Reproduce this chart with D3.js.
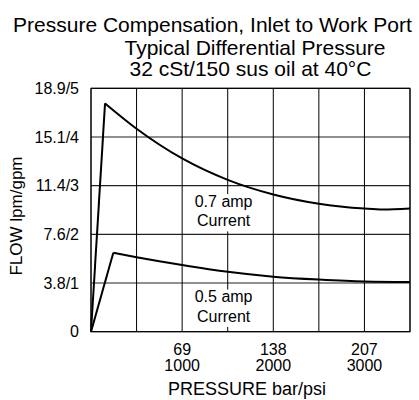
<!DOCTYPE html>
<meta charset="utf-8">
<style>
body { margin: 0; background: #fff; }
text { font-family: "Liberation Sans", Arial, sans-serif; fill: #000; }
</style>
<body>
  <div id="box1"></div>
</body>
<script src="https://d3js.org/d3.v7.min.js"></script>
<script>

// axis ticks
var gpmTicks = [0, 1, 2, 3, 4, 5]
var flowLabels = ["0", "3.8/1", "7.6/2", "11.4/3", "15.1/4", "18.9/5"]
var psiTicks = [1000, 2000, 3000]
var barLabels = ["69", "138", "207"]
var psiGrid = [0, 500, 1000, 1500, 2000, 2500, 3000, 3500]

// 0.7 amp curve (psi, gpm)
var psi07 = [0, 154, 500, 1000, 1500, 2000, 2500, 3000, 3200, 3500]
var gpm07 = [0, 4.69, 4.17, 3.56, 3.12, 2.82, 2.63, 2.53, 2.51, 2.53]

// 0.5 amp curve (psi, gpm)
var psi05 = [0, 245, 500, 1000, 1500, 2000, 2500, 3000, 3500]
var gpm05 = [0, 1.62, 1.53, 1.37, 1.23, 1.13, 1.07, 1.03, 1.02]

var width = 419, height = 400
var margin = ({top: 88.3, right: 9, bottom: 68.3, left: 91})

var x = d3.scaleLinear()
    .domain([0, 3500])
    .range([margin.left, width - margin.right])

var y = d3.scaleLinear()
    .domain([0, 5])
    .range([height - margin.bottom, margin.top])

var svg = d3.select('#box1').append("svg")
    .attr("width", width)
    .attr("height", height)

// grid
svg.append("g")
  .selectAll("line")
  .data(gpmTicks)
  .join("line")
    .attr("x1", x(0)).attr("x2", x(3500))
    .attr("y1", d => y(d)).attr("y2", d => y(d))
    .attr("stroke", "#222")
    .attr("stroke-width", 1.2)

svg.append("g")
  .selectAll("line")
  .data(psiGrid)
  .join("line")
    .attr("x1", d => x(d)).attr("x2", d => x(d))
    .attr("y1", y(0)).attr("y2", y(5))
    .attr("stroke", "#000")
    .attr("stroke-width", 1)

// curves: straight rise to the peak, then smooth decay
function drawCurve(psi, gpm) {
  var pts = psi.map((p, i) => [p, gpm[i]])
  var rise = d3.line().x(d => x(d[0])).y(d => y(d[1]))
  var fall = d3.line().x(d => x(d[0])).y(d => y(d[1])).curve(d3.curveMonotoneX)
  svg.append("path")
    .attr("d", rise(pts.slice(0, 2)))
    .attr("fill", "none").attr("stroke", "#000").attr("stroke-width", 2)
  svg.append("path")
    .attr("d", fall(pts.slice(1)))
    .attr("fill", "none").attr("stroke", "#000").attr("stroke-width", 2)
}
drawCurve(psi07, gpm07)
drawCurve(psi05, gpm05)

// curve labels with white boxes
var notes = [
  {psi: 1455, gpm: 2.56, lines: ["0.7 amp", "Current"]},
  {psi: 1455, gpm: 0.6, lines: ["0.5 amp", "Current"]}
]
notes.forEach(function(n) {
  var g = svg.append("g")
  var rect = g.append("rect").attr("fill", "#fff")
  var t = g.append("text")
    .attr("text-anchor", "middle")
    .style("font-size", "16px")
  n.lines.forEach(function(s, i) {
    t.append("tspan")
      .attr("x", x(n.psi))
      .attr("y", y(n.gpm) + i * 19.4)
      .text(s)
  })
  var b = t.node().getBBox()
  rect.attr("x", b.x - 3).attr("y", b.y + 1)
      .attr("width", b.width + 6).attr("height", b.height + 1)
})

// border
svg.append("rect")
  .attr("x", x(0)).attr("y", y(5))
  .attr("width", x(3500) - x(0)).attr("height", y(0) - y(5))
  .attr("fill", "none").attr("stroke", "#000").attr("stroke-width", 1)

// y tick labels
svg.append("g")
  .selectAll("text")
  .data(gpmTicks)
  .join("text")
    .attr("x", margin.left - 12)
    .attr("y", d => y(d))
    .attr("dy", "0.35em")
    .attr("text-anchor", "end")
    .style("font-size", "16px")
    .text((d, i) => flowLabels[i])

// x tick labels
svg.append("g")
  .selectAll("text")
  .data(psiTicks)
  .join("text")
    .attr("x", d => x(d))
    .attr("y", 355)
    .attr("text-anchor", "middle")
    .style("font-size", "16px")
    .text((d, i) => barLabels[i])

svg.append("g")
  .selectAll("text")
  .data(psiTicks)
  .join("text")
    .attr("x", d => x(d))
    .attr("y", 371)
    .attr("text-anchor", "middle")
    .style("font-size", "16px")
    .text(d => d)

// axis titles
svg.append("text")
  .attr("x", 247).attr("y", 395)
  .attr("text-anchor", "middle")
  .style("font-size", "18px")
  .text("PRESSURE bar/psi")

svg.append("text")
  .attr("transform", "translate(22,216) rotate(-90)")
  .attr("text-anchor", "middle")
  .style("font-size", "17px")
  .text("FLOW lpm/gpm")

// titles
svg.append("text")
  .attr("x", 212.5).attr("y", 31.5)
  .attr("text-anchor", "middle")
  .style("font-size", "21px")
  .text("Pressure Compensation, Inlet to Work Port")

svg.append("text")
  .attr("x", 255).attr("y", 54.5)
  .attr("text-anchor", "middle")
  .style("font-size", "21px")
  .text("Typical Differential Pressure")

svg.append("text")
  .attr("x", 250.5).attr("y", 76)
  .attr("text-anchor", "middle")
  .style("font-size", "21px")
  .text("32 cSt/150 sus oil at 40°C")

</script>
